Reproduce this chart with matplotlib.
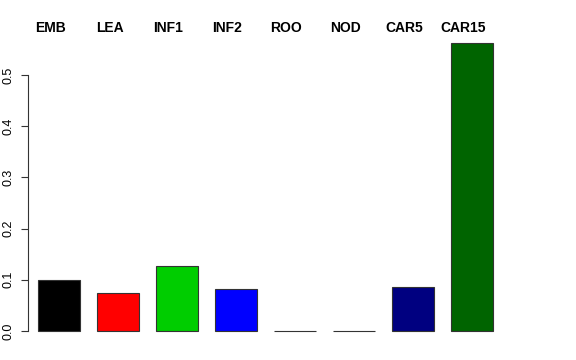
import matplotlib
matplotlib.use("Agg")
import matplotlib.pyplot as plt
import numpy as np

samples = ["EMB", "LEA", "INF1", "INF2", "ROO", "NOD", "CAR5", "CAR15"]
values = [0.099, 0.074, 0.127, 0.082, 0.0, 0.0, 0.086, 0.563]
colours = ["black", "red", "#00CD00", "blue", "cyan", "magenta", "#000080", "#006400"]
yticks = [0.0, 0.1, 0.2, 0.3, 0.4, 0.5]

plt.rcParams["font.family"] = ["Liberation Sans", "DejaVu Sans"]

W, H = 576, 360
fig = plt.figure(figsize=(W / 100, H / 100), dpi=100)
# axes placed in pixel terms: left 28, right 510, top 30, bottom 345
ax = fig.add_axes([28 / W, (H - 345) / H, (510 - 28) / W, (345 - 30) / H])

x = np.arange(len(samples))
ax.bar(x, values, width=0.71, color=colours, edgecolor="#333333", linewidth=0.8)

ax.set_xlim(-31 / 59, (510 - 59) / 59)
ax.set_ylim(-14 / 512, 301 / 512)

for s in ["top", "right", "bottom"]:
    ax.spines[s].set_visible(False)
ax.spines["left"].set_bounds(0, 0.5)
ax.spines["left"].set_color("#333333")
ax.spines["left"].set_linewidth(0.8)

ax.set_xticks([])
ax.set_yticks(yticks)
ax.set_yticklabels([f"{t:.1f}" for t in yticks], rotation=90, va="center", fontsize=9)
ax.tick_params(axis="y", length=5, width=0.8, color="#333333", pad=5)

# sample names above the bars (sit a little left of the bar centres)
for xi, name in zip(x, samples):
    ax.text(xi - 0.145, 0.591, name, ha="center", va="center",
            fontsize=10, fontweight="bold", clip_on=False)

fig.savefig("out.png", dpi=100)
